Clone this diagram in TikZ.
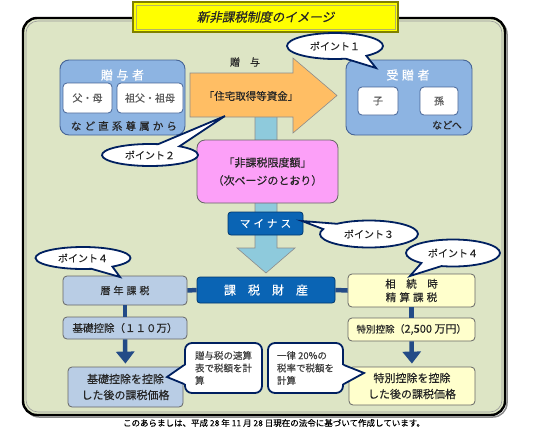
\documentclass[tikz,border=0pt]{standalone}
\usepackage{fontspec}
\setmainfont{Noto Sans CJK JP}[FakeBold=0.35]
\newfontfamily\titlefont{Noto Sans CJK JP}[FakeSlant=0.2,FakeBold=0.6]
\newfontfamily\spreadfont{Noto Sans CJK JP}[LetterSpace=30,FakeBold=0.35]
\usetikzlibrary{shapes.callouts,arrows.meta}

\definecolor{nzframe}{RGB}{221,229,197}
\definecolor{nztitle}{RGB}{255,255,0}
\definecolor{nzolive}{RGB}{128,128,0}
\definecolor{nzgrp}{RGB}{141,180,226}
\definecolor{nzgrpline}{RGB}{70,100,150}
\definecolor{nzdark}{RGB}{10,100,180}
\definecolor{nzdarkline}{RGB}{0,55,110}
\definecolor{nzlblue}{RGB}{185,205,229}
\definecolor{nzylw}{RGB}{255,255,204}
\definecolor{nzpink}{RGB}{252,160,248}
\definecolor{nzorange}{RGB}{255,190,100}
\definecolor{nzstem}{RGB}{142,202,220}
\definecolor{nznavy}{RGB}{0,32,96}
\definecolor{nzlink}{RGB}{35,75,135}

\begin{document}
\begin{tikzpicture}[x=1pt, y=-1pt,
  font=\fontsize{10}{12}\selectfont, text=black!85,
  grpbox/.style={fill=nzgrp, draw=nzgrpline, line width=0.9pt, rounded corners=9pt, inner sep=0pt},
  namebox/.style={fill=white, draw=nzgrpline, line width=0.8pt, rounded corners=4pt, inner sep=0pt, text=black!65},
  darkbox/.style={fill=nzdark, draw=nzdarkline, line width=0.8pt, rounded corners=3pt, inner sep=0pt, text=white},
  rekibox/.style={fill=nzlblue, draw=black!60, line width=0.8pt, rounded corners=4pt, inner sep=0pt, align=center},
  seisanbox/.style={rekibox, fill=nzylw},
  point/.style={ellipse callout, fill=white, draw=nznavy, line width=1.8pt, inner sep=0pt,
    callout pointer arc=28, font=\fontsize{10}{12}\selectfont, text=black!85},
  notebox/.style={fill=white, draw=nznavy, line width=1.8pt, rounded corners=7pt, inner sep=0pt,
    align=left, font=\fontsize{9.5}{12.5}\selectfont, text=black!75},
  link/.style={nzlink, line width=4.5pt},
  linkarrow/.style={link, -{Triangle[width=18pt,length=12pt]}, shorten >=3pt},
]
\useasboundingbox (0,0) rectangle (550,437);

%% frame and title
\draw[black!45, line width=1.5pt, rounded corners=14pt] (25,20) rectangle (507,417);
\draw[black, line width=2.4pt, rounded corners=14pt, fill=nzframe] (23,18) rectangle (505,415);
\draw[black!40, line width=0.6pt, rounded corners=12pt] (26,21) rectangle (502,412);
\node[fill=nztitle, draw=nzolive, line width=1.2pt, minimum width=265pt, minimum height=30pt,
  inner sep=0pt, font=\titlefont\fontsize{12.5}{14}\selectfont] (title) at (265.5,17) {新非課税制度のイメージ};
\draw[nzolive!60, line width=0.6pt] (136,5) rectangle (395,29);

%% flow of money
\filldraw[fill=nzstem, draw=black!45, line width=0.6pt]
  (255,110) -- (255,248) -- (237,248) -- (266,273) -- (295,248) -- (277,248) -- (277,110) -- cycle;
\filldraw[fill=nzorange, draw=black!45, line width=0.6pt]
  (190,73) -- (293,73) -- (293,58) -- (337,95.5) -- (293,133) -- (293,117) -- (190,117) -- cycle;
\node (gift) at (245,62) {贈　与};
\node[font=\fontsize{10.5}{12}\selectfont] (fund) at (251,96) {「住宅取得等資金」};
\node[fill=nzpink, draw=black!60, line width=0.8pt, rounded corners=8pt, minimum width=141pt,
  minimum height=63pt, inner sep=0pt, align=center, font=\fontsize{11}{18}\selectfont]
  (limit) at (267.5,171.5) {「非課税限度額」\\（次ページのとおり）};
\node[darkbox, minimum width=75pt, minimum height=23pt, font=\spreadfont\fontsize{10.5}{12}\selectfont]
  (minus) at (265.5,223.5) {マイナス};
\node[darkbox, minimum width=138pt, minimum height=26pt, font=\fontsize{12}{14}\selectfont]
  (taxbase) at (266,290) {課　税　財　産};

%% giver and receiver
\node[grpbox, minimum width=125pt, minimum height=75pt] (giver) at (122.5,97.5) {};
\node[text=white, font=\spreadfont\fontsize{12}{14}\selectfont] (givertitle) at (122.5,75) {贈与者};
\node[namebox, minimum width=49pt, minimum height=30pt] (parent) at (87.5,98) {父・母};
\node[namebox, minimum width=66pt, minimum height=30pt] (grandparent) at (150,98) {祖父・祖母};
\node[font=\spreadfont\fontsize{10.5}{12}\selectfont] (lineal) at (124,126) {など直系尊属から};

\node[grpbox, minimum width=126pt, minimum height=75pt] (receiver) at (409,97.5) {};
\node[text=white, font=\spreadfont\fontsize{12}{14}\selectfont] (receivertitle) at (408,75) {受贈者};
\node[namebox, minimum width=40pt, minimum height=28pt] (child) at (378,101) {子};
\node[namebox, minimum width=38pt, minimum height=28pt] (grandchild) at (439,101) {孫};
\node (etc) at (447,125) {などへ};

%% two ways of taxation
\node[rekibox, minimum width=124pt, minimum height=29pt, font=\spreadfont\fontsize{10}{12}\selectfont]
  (koku) at (125,290.5) {暦年課税};
\node[rekibox, minimum width=124pt, minimum height=22pt, font=\fontsize{10.5}{12}\selectfont]
  (kiso) at (125,328) {基礎控除（１１０万）};
\node[rekibox, minimum width=115pt, minimum height=40pt, font=\fontsize{11}{16}\selectfont]
  (resultL) at (125.5,387) {基礎控除を控除\\した後の課税価格};

\node[seisanbox, minimum width=127pt, minimum height=33pt, font=\fontsize{10.5}{13.5}\selectfont]
  (souzoku) at (411.5,290.5) {相　続　時\\{\spreadfont 精算課税}};
\node[seisanbox, minimum width=127pt, minimum height=23pt]
  (tokubetsu) at (411.5,329.5) {{\fontsize{9.5}{12}\selectfont 特別控除}（{\fontsize{11}{12}\selectfont 2,500 万円}）};
\node[seisanbox, minimum width=126pt, minimum height=38pt, font=\fontsize{11}{16}\selectfont]
  (resultR) at (412,386) {特別控除を控除\\した後の課税価格};

\draw[link] (koku.east) -- (taxbase.west);
\draw[link] (taxbase.east) -- (souzoku.west);
\draw[link] (koku.south) -- (kiso.north);
\draw[linkarrow] (kiso.south) -- (resultL.north);
\draw[link] (souzoku.south) -- (tokubetsu.north);
\draw[linkarrow] (tokubetsu.south) -- (resultR.north);

%% notes
\node[notebox, minimum width=77pt, minimum height=50pt] (noteL) at (223.5,368) {贈与税の速算\\表で税額を計\\算};
\node[notebox, minimum width=75pt, minimum height=50pt] (noteR) at (305.5,368) {一律 20\%の\\税率で税額を\\計算};
\coordinate (tipL) at (167,377);
\coordinate (tipR) at (364,373);
\fill[white] ([xshift=2pt,yshift=3pt]noteL.west) -- (tipL) -- ([xshift=2pt,yshift=-16pt]noteL.west) -- cycle;
\draw[nznavy, line width=1.8pt] ([yshift=3pt]noteL.west) -- (tipL) -- ([yshift=-16pt]noteL.west);
\fill[white] ([xshift=-2pt,yshift=3pt]noteR.east) -- (tipR) -- ([xshift=-2pt,yshift=-16pt]noteR.east) -- cycle;
\draw[nznavy, line width=1.8pt] ([yshift=3pt]noteR.east) -- (tipR) -- ([yshift=-16pt]noteR.east);

%% points
\node[point, minimum width=96pt, minimum height=26pt, callout absolute pointer={(376,68)}] (point1) at (335,46) {ポイント１};
\node[point, minimum width=96pt, minimum height=22pt, callout absolute pointer={(225,116)}] (point2) at (150,155) {ポイント２};
\node[point, minimum width=98pt, minimum height=27pt, callout absolute pointer={(302,221)}] (point3) at (369,234) {ポイント３};
\node[point, minimum width=95pt, minimum height=22pt, callout absolute pointer={(120,277)}] (point4L) at (83,258) {ポイント４};
\node[point, minimum width=94pt, minimum height=27pt, callout absolute pointer={(410,276)}] (point4R) at (453,253) {ポイント４};

\node[font=\fontsize{8.5}{10}\selectfont, text=black] (footer) at (274,423)
  {このあらましは、平成 28 年 11 月 28 日現在の法令に基づいて作成しています。};
\end{tikzpicture}
\end{document}
